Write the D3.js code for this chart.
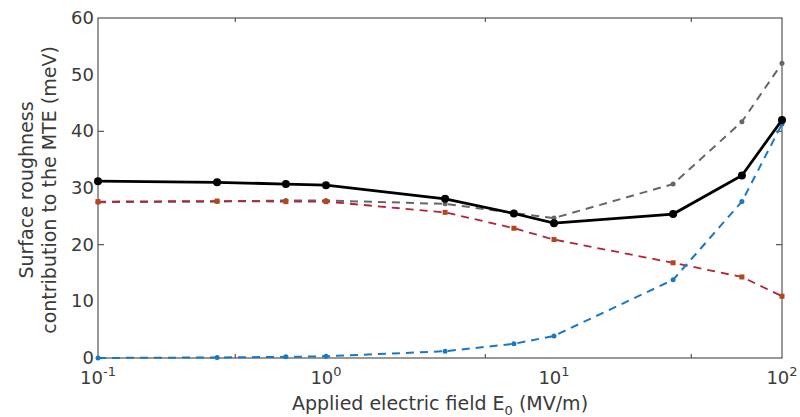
<!DOCTYPE html>
<html>
<head>
<meta charset="utf-8">
<script src="https://cdn.jsdelivr.net/npm/d3@7"></script>
<style>
  body { margin: 0; background: #fff; }
  text { font-family: "DejaVu Sans", sans-serif; fill: #3a3a3a; }
</style>
</head>
<body>
<script>
// field values (MV/m)
var fields = [0.1, 0.333, 0.667, 1, 3.33, 6.67, 10, 33.3, 66.7, 100];
// surface roughness contributions (meV)
var totalMTE = [31.2, 31.0, 30.7, 30.5, 28.1, 25.5, 23.8, 25.4, 32.2, 42.0];
var grayMTE  = [27.5, 27.6, 27.8, 27.8, 27.2, 25.6, 24.7, 30.7, 41.7, 52.0];
var redMTE   = [27.6, 27.7, 27.6, 27.6, 25.7, 22.9, 20.9, 16.8, 14.3, 10.9];
var blueMTE  = [0.0, 0.1, 0.2, 0.3, 1.2, 2.5, 3.9, 13.8, 27.6, 41.3];

var xLabelVals = [0.1, 1, 10, 100];
var xLabelExps = ["-1", "0", "1", "2"];
var xTickVals = [0.4, 5, 40];
var yLabelVals = [0, 10, 20, 30, 40, 50, 60];
var yTickVals = [20, 40];

var width = 800, height = 417;
var plotL = 98, plotR = 782, plotT = 18, plotB = 358;

var svg = d3.select("body").append("svg")
    .attr("width", width)
    .attr("height", height);

var x = d3.scaleLog().domain([0.1, 100]).range([plotL, plotR]);
var y = d3.scaleLinear().domain([0, 60]).range([plotB, plotT]);

// box
svg.append("rect")
    .attr("x", plotL).attr("y", plotT)
    .attr("width", plotR - plotL).attr("height", plotB - plotT)
    .attr("fill", "none").attr("stroke", "#555").attr("stroke-width", 1.2);

// small inward tick marks
xTickVals.forEach(function(v) {
  [[plotB, -4], [plotT, 4]].forEach(function(p) {
    svg.append("line")
        .attr("x1", x(v)).attr("x2", x(v))
        .attr("y1", p[0]).attr("y2", p[0] + p[1])
        .attr("stroke", "#555").attr("stroke-width", 1.2);
  });
});
yTickVals.forEach(function(v) {
  [[plotL, 6], [plotR, -6]].forEach(function(p) {
    svg.append("line")
        .attr("x1", p[0]).attr("x2", p[0] + p[1])
        .attr("y1", y(v)).attr("y2", y(v))
        .attr("stroke", "#555").attr("stroke-width", 1.2);
  });
});

// y tick labels
svg.selectAll(".ylab").data(yLabelVals).enter().append("text")
    .attr("class", "ylab")
    .attr("x", plotL - 4)
    .attr("y", function(d) { return y(d) + 6; })
    .attr("text-anchor", "end")
    .style("font-size", "18px")
    .text(function(d) { return d; });

// x tick labels with superscripts
xLabelVals.forEach(function(v, i) {
  var t = svg.append("text")
      .attr("x", x(v))
      .attr("y", plotB + 26)
      .attr("text-anchor", "middle")
      .style("font-size", "18px");
  t.append("tspan").text("10");
  t.append("tspan").attr("dy", -8).style("font-size", "13px").text(xLabelExps[i]);
});

// axis titles
var xt = svg.append("text")
    .attr("x", 440).attr("y", 410)
    .attr("text-anchor", "middle")
    .style("font-size", "19px");
xt.append("tspan").text("Applied electric field E");
xt.append("tspan").attr("dy", 5).style("font-size", "13px").text("0");
xt.append("tspan").attr("dy", -5).text(" (MV/m)");

svg.append("text")
    .attr("transform", "translate(33,190) rotate(-90)")
    .attr("text-anchor", "middle")
    .style("font-size", "19px")
    .text("Surface roughness");
svg.append("text")
    .attr("transform", "translate(56,190) rotate(-90)")
    .attr("text-anchor", "middle")
    .style("font-size", "19px")
    .text("contribution to the MTE (meV)");

function series(vals, color, lw, dash, markColor, r, shape) {
  var pts = fields.map(function(f, i) { return [f, vals[i]]; });
  var line = d3.line()
      .x(function(d) { return x(d[0]); })
      .y(function(d) { return y(d[1]); });
  svg.append("path")
      .datum(pts)
      .attr("d", line)
      .attr("fill", "none")
      .attr("stroke", color)
      .attr("stroke-width", lw)
      .attr("stroke-dasharray", dash);
  if (shape === "square") {
    svg.append("g").selectAll("rect").data(pts).enter().append("rect")
        .attr("x", function(d) { return x(d[0]) - r; })
        .attr("y", function(d) { return y(d[1]) - r; })
        .attr("width", 2 * r).attr("height", 2 * r)
        .attr("fill", markColor);
  } else {
    svg.append("g").selectAll("circle").data(pts).enter().append("circle")
        .attr("cx", function(d) { return x(d[0]); })
        .attr("cy", function(d) { return y(d[1]); })
        .attr("r", r)
        .attr("fill", markColor);
  }
}

series(grayMTE, "#666", 2, "8,6", "#666", 2.5, "circle");
series(redMTE, "#b3233a", 1.8, "8,6", "#b5461a", 2.5, "square");
series(blueMTE, "#1a78c2", 2, "8,6", "#1a78c2", 2.5, "circle");
series(totalMTE, "#000", 2.8, null, "#000", 4, "circle");
</script>
</body>
</html>
